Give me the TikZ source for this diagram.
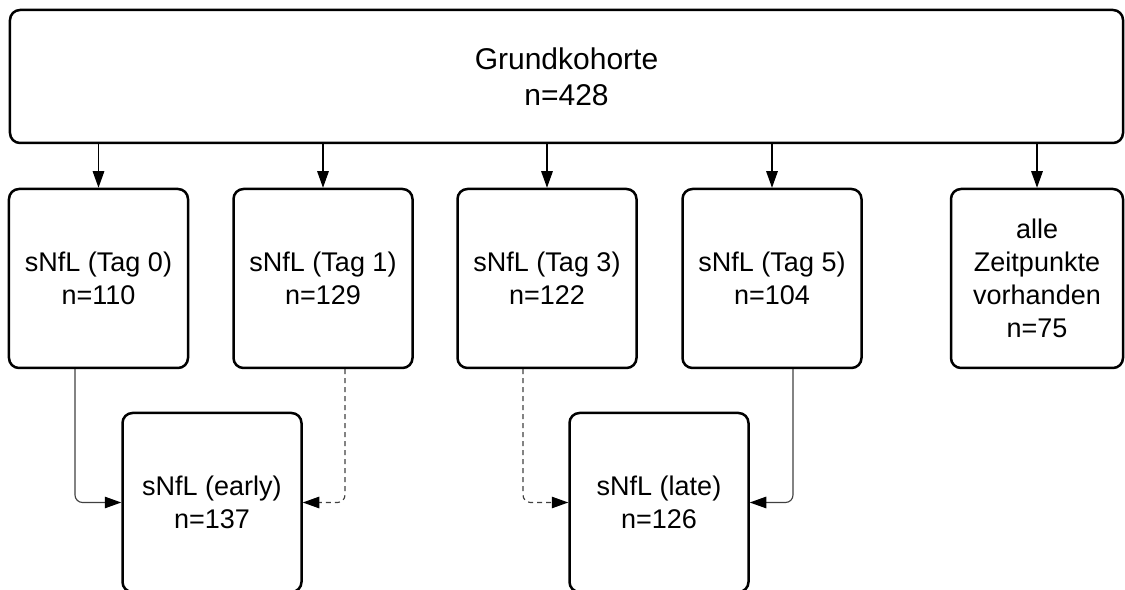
\documentclass[tikz,border=0pt]{standalone}
\usepackage{fontspec}
\setmainfont{Liberation Sans}
\usetikzlibrary{arrows.meta}

\tikzset{
    box/.style={draw, line width=1pt, rounded corners=4pt, align=center,
                inner sep=0pt, minimum width=71.6pt, minimum height=71.6pt,
                font=\fontsize{10.8}{13.2}\selectfont},
}

\begin{document}
\begin{tikzpicture}[x=0.4pt, y=-0.4pt]
\useasboundingbox (0, 0) rectangle (1125, 590);
\draw[] (566.5, 76.5) node[box, minimum width=445.2pt, minimum height=53.2pt,
    font=\fontsize{12}{14.4}\selectfont] (kohorte) {Grundkohorte\\n=428};
\draw[] (98.5, 278.5) node[box] (tag0) {sNfL (Tag 0)\\n=110};
\draw[] (323, 278.5) node[box] (tag1) {sNfL (Tag 1)\\n=129};
\draw[] (547, 278.5) node[box] (tag3) {sNfL (Tag 3)\\n=122};
\draw[] (772, 278.5) node[box] (tag5) {sNfL (Tag 5)\\n=104};
\draw[] (1037, 278.5) node[box, minimum width=68.8pt] (alle) {alle\\Zeitpunkte\\vorhanden\\n=75};
\draw[] (212, 502.5) node[box] (early) {sNfL (early)\\n=137};
\draw[] (659, 502.5) node[box] (late) {sNfL (late)\\n=126};
\begin{scope}[>={Triangle[black, length=6.6pt, width=4.6pt]},
              every edge/.style={draw, line width=0.5pt}]
    \foreach \t in {tag0, tag1, tag3, tag5, alle}
        \path [->] (kohorte.south -| \t.north) edge (\t.north);
    \draw [->, black!75, line width=0.45pt, rounded corners=3pt] (tag0.south) ++(-23.5, 0) |- (early.west);
    \draw [->, black!75, line width=0.45pt, rounded corners=3pt, dash pattern=on 2pt off 1.6pt] (tag1.south) ++(22, 0) |- (early.east);
    \draw [->, black!75, line width=0.45pt, rounded corners=3pt, dash pattern=on 2pt off 1.6pt] (tag3.south) ++(-24, 0) |- (late.west);
    \draw [->, black!75, line width=0.45pt, rounded corners=3pt] (tag5.south) ++(21, 0) |- (late.east);
\end{scope}
\end{tikzpicture}
\end{document}
